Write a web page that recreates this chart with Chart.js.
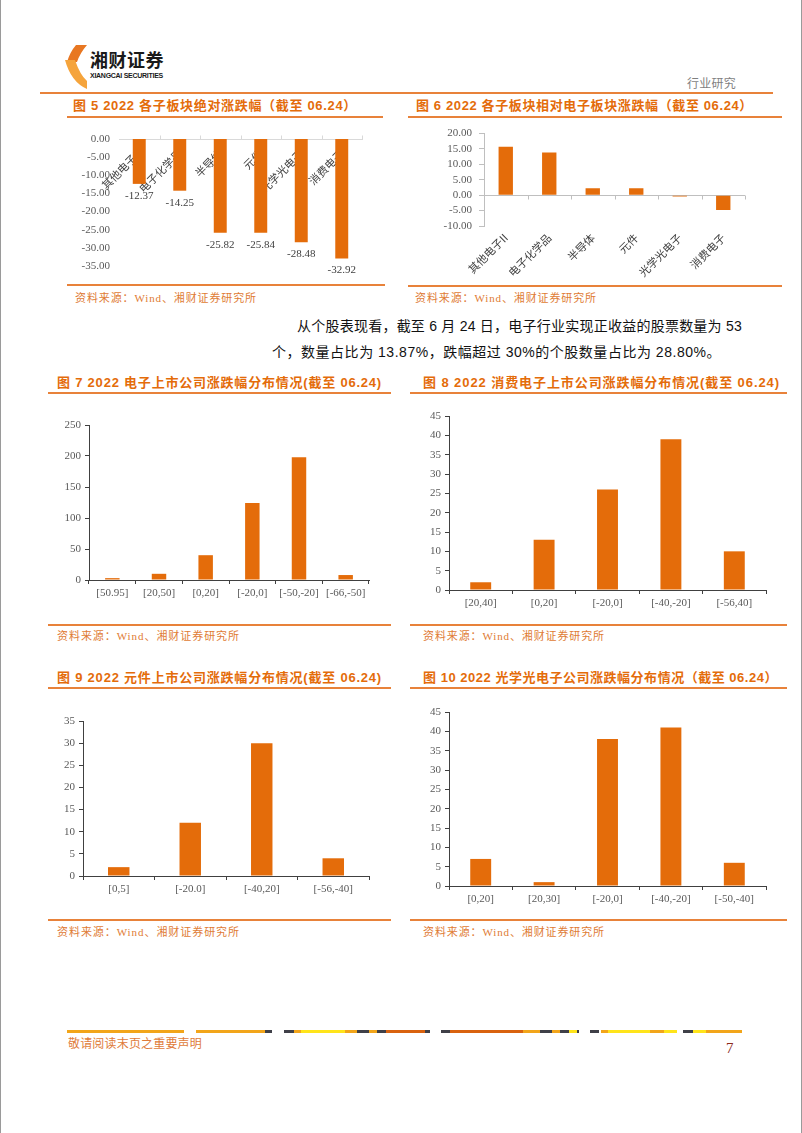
<!DOCTYPE html>
<html><head><meta charset="utf-8">
<script src="https://cdn.jsdelivr.net/npm/chart.js@4.4.0/dist/chart.umd.min.js"></script>
<style>
html,body{margin:0;padding:0;background:#fff;}
body{width:802px;height:1133px;position:relative;overflow:hidden;}
.t{position:absolute;white-space:nowrap;display:inline-block;}
.ln{position:absolute;}
canvas{position:absolute;}
</style></head><body>
<svg style="position:absolute;left:0;top:0" width="802" height="1133">
  <path d="M76 45 L87 45 Q80 53 77 62 L67 62 Q70 52 76 45 Z" fill="#E87722"/>
  <path d="M65 60 L75 60 Q80 75 87 81 L87 89 Q71 82 65 60 Z" fill="#F5A43C"/>
  <line x1="0.5" y1="0" x2="0.5" y2="1133" stroke="#9a9a9a" stroke-width="1"/>
  <line x1="801.5" y1="0" x2="801.5" y2="1133" stroke="#9a9a9a" stroke-width="1"/>
</svg>
<script>
// ---------------- DATA ----------------
const fig5Categories = ['其他电子II','电子化学品','半导体','元件','光学光电子','消费电子'];
const fig5Values = [-12.37,-14.25,-25.82,-25.84,-28.48,-32.92];

const fig6Categories = ['其他电子II','电子化学品','半导体','元件','光学光电子','消费电子'];
const fig6Values = [15.71,13.83,2.26,2.24,-0.40,-4.84];

const fig7Categories = ['[50.95]','[20,50]','[0,20]','[-20,0]','[-50,-20]','[-66,-50]'];
const fig7Values = [3,10,40,124,198,8];

const fig8Categories = ['[20,40]','[0,20]','[-20,0]','[-40,-20]','[-56,40]'];
const fig8Values = [2,13,26,39,10];

const fig9Categories = ['[0,5]','[-20.0]','[-40,20]','[-56,-40]'];
const fig9Values = [2,12,30,4];

const fig10Categories = ['[0,20]','[20,30]','[-20,0]','[-40,-20]','[-50,-40]'];
const fig10Values = [7,1,38,41,6];

// ---------------- STYLE ----------------
const BAR = '#E46C0A';
const ORANGE_TXT = '#E46C0A';
const LINE = '#E8823A';
const SRC = '#E07B34';
const TICK_TXT = '#595959';
const AX = '#404040';
const SERIF = '"Liberation Serif","Noto Sans CJK SC",serif';
const SANS = '"Liberation Sans","Noto Sans CJK SC",sans-serif';
const CJK = '"Noto Sans CJK SC",sans-serif';

function txt(text, x, cy, size, o) {
  o = o || {};
  const el = document.createElement('span');
  el.className = 't';
  el.textContent = text;
  el.style.left = x + 'px';
  el.style.top = (cy - size / 2) + 'px';
  el.style.fontSize = size + 'px';
  el.style.lineHeight = size + 'px';
  el.style.fontFamily = o.family || SANS;
  el.style.fontWeight = o.weight || 'normal';
  el.style.color = o.color || '#000';
  document.body.appendChild(el);
  if (o.width) {
    const cur = el.getBoundingClientRect().width;
    const n = [...text].length;
    el.style.letterSpacing = ((o.width - cur) / n) + 'px';
  }
  return el;
}
function hline(x1, x2, y, th, color) {
  const d = document.createElement('div');
  d.className = 'ln';
  d.style.left = x1 + 'px'; d.style.top = (y - th / 2) + 'px';
  d.style.width = (x2 - x1) + 'px'; d.style.height = th + 'px';
  d.style.background = color;
  document.body.appendChild(d);
}
function addCanvas(box) {
  const c = document.createElement('canvas');
  c.width = box.w; c.height = box.h;
  c.style.left = box.x + 'px'; c.style.top = box.y + 'px';
  c.style.width = box.w + 'px'; c.style.height = box.h + 'px';
  document.body.appendChild(c);
  return c;
}

// ---------------- HEADER ----------------
txt('湘财证券', 90, 59, 18, {weight: 'bold', color: '#1a1a1a', family: CJK, width: 74});
txt('XIANGCAI SECURITIES', 90, 75, 7, {weight: 'bold', color: '#1a1a1a', family: '"Liberation Sans Narrow","Liberation Sans",sans-serif', width: 73});
txt('行业研究', 687, 83, 12, {color: '#7f7f7f', family: CJK, width: 49});
hline(40, 773, 93, 1.5, LINE);

// ---------------- TITLES / FRAMES ----------------
const tSize = 13;
txt('图 5 2022 各子板块绝对涨跌幅（截至 06.24）', 73, 105, tSize, {weight: 'bold', color: ORANGE_TXT, width: 284});
txt('图 6 2022 各子板块相对电子板块涨跌幅（截至 06.24）', 416, 105, tSize, {weight: 'bold', color: ORANGE_TXT, width: 337});
hline(67, 383, 117, 1.5, LINE);
hline(408, 782, 117, 1.5, LINE);
hline(67, 385, 285, 2, LINE);
hline(408, 782, 286, 2, LINE);
txt('资料来源：Wind、湘财证券研究所', 75, 298, 11, {color: SRC, family: SERIF, width: 182});
txt('资料来源：Wind、湘财证券研究所', 415, 298, 11, {color: SRC, family: SERIF, width: 182});

txt('从个股表现看，截至 6 月 24 日，电子行业实现正收益的股票数量为 53', 297, 326, 14, {color: '#111', width: 445});
txt('个，数量占比为 13.87%，跌幅超过 30%的个股数量占比为 28.80%。', 272, 352, 14, {color: '#111', width: 449});

txt('图 7 2022 电子上市公司涨跌幅分布情况(截至 06.24)', 57, 382, tSize, {weight: 'bold', color: ORANGE_TXT, width: 325});
txt('图 8 2022 消费电子上市公司涨跌幅分布情况(截至 06.24)', 423, 382, tSize, {weight: 'bold', color: ORANGE_TXT, width: 357});
hline(48, 391, 393, 1.5, LINE);
hline(410, 787, 393, 1.5, LINE);
hline(48, 391, 625, 1.5, LINE);
hline(410, 787, 625, 1.5, LINE);
txt('资料来源：Wind、湘财证券研究所', 57, 636, 11, {color: SRC, family: SERIF, width: 183});
txt('资料来源：Wind、湘财证券研究所', 423, 636, 11, {color: SRC, family: SERIF, width: 182});

txt('图 9 2022 元件上市公司涨跌幅分布情况(截至 06.24)', 57, 677, tSize, {weight: 'bold', color: ORANGE_TXT, width: 325});
txt('图 10 2022 光学光电子公司涨跌幅分布情况（截至 06.24）', 423, 677, tSize, {weight: 'bold', color: ORANGE_TXT, width: 355});
hline(48, 391, 688, 1.5, LINE);
hline(410, 787, 688, 1.5, LINE);
hline(48, 391, 920, 1.5, LINE);
hline(410, 787, 920, 1.5, LINE);
txt('资料来源：Wind、湘财证券研究所', 57, 932, 11, {color: SRC, family: SERIF, width: 183});
txt('资料来源：Wind、湘财证券研究所', 423, 932, 11, {color: SRC, family: SERIF, width: 182});

// ---------------- FOOTER ----------------
const O = '#F2A51A', Y = '#FFE41A', D = '#3f4048', R = '#D9620F';
const footerSegs = [
  [67,184,O],[196,265,O],[265,272,D],
  [284,294,D],[294,301,O],[301,345,Y],[345,357,O],[357,369,D],[369,377,O],[377,386,D],[386,425,R],[425,430,D],
  [441,450,D],[450,523,R],[523,540,O],[540,552,D],[552,560,O],[560,569,D],[569,577,Y],[577,579,D],
  [590,599,D],[601,608,O],[608,650,Y],[650,664,O],[664,677,Y],
  [683,693,D],[693,706,Y],[706,742,O]
];
footerSegs.forEach(s => hline(s[0], s[1], 1031.5, 3, s[2]));
txt('敬请阅读末页之重要声明', 68, 1044, 12, {color: '#E07B39', family: SERIF, width: 134});
txt('7', 726, 1048, 15, {color: '#8B2B1A', family: SERIF});

// ---------------- CHARTS ----------------
Chart.defaults.font.family = SERIF;
const serif11 = {family: SERIF, size: 11};
const cjk11 = {family: '"Noto Sans CJK SC",sans-serif', size: 11};

const valueLabels = {
  id: 'valueLabels',
  afterDatasetsDraw(chart) {
    if (!chart.options.plugins.valueLabels || !chart.options.plugins.valueLabels.on) return;
    const ctx = chart.ctx;
    const meta = chart.getDatasetMeta(0);
    const data = chart.data.datasets[0].data;
    ctx.save();
    ctx.font = '11px ' + SERIF;
    ctx.fillStyle = '#404040';
    ctx.textAlign = 'center';
    ctx.textBaseline = 'middle';
    meta.data.forEach((bar, i) => {
      ctx.fillText(data[i].toFixed(2), bar.x, bar.y + 12);
    });
    ctx.restore();
  }
};
const zeroTicks = {
  id: 'zeroTicks',
  afterDatasetsDraw(chart) {
    const o = chart.options.plugins.zeroTicks;
    if (!o || !o.on) return;
    const x = chart.scales.x, y = chart.scales.y;
    const y0 = Math.round(y.getPixelForValue(0)) + 0.5;
    const n = chart.data.labels.length;
    const ctx = chart.ctx;
    ctx.save();
    ctx.strokeStyle = o.color; ctx.lineWidth = 1;
    for (let i = 1; i <= n; i++) {
      const bx = i < n ? (x.getPixelForValue(i - 1) + x.getPixelForValue(i)) / 2 : chart.chartArea.right;
      const px = Math.round(bx) + 0.5;
      ctx.beginPath(); ctx.moveTo(px, y0); ctx.lineTo(px, y0 + o.dir * 4); ctx.stroke();
    }
    ctx.restore();
  }
};

function baseOpts(box, area) {
  return {
    responsive: false, animation: false, devicePixelRatio: 1,
    layout: {padding: {left: 0, top: area.t - box.y, right: box.x + box.w - area.r, bottom: 0}},
    plugins: {legend: {display: false}, tooltip: {enabled: false}, title: {display: false}}
  };
}

// Figure 5
(function () {
  const box = {x: 60, y: 122, w: 320, h: 162};
  const area = {l: 119, r: 362, t: 139, b: 266};
  const opts = baseOpts(box, area);
  opts.layout.padding.bottom = box.y + box.h - area.b;
  opts.plugins.valueLabels = {on: true};
  opts.plugins.zeroTicks = {on: true, color: '#d9d9d9', dir: -1};
  opts.scales = {
    y: {min: -35, max: 0,
        ticks: {stepSize: 5, autoSkip: false, callback: v => Number(v).toFixed(2), font: serif11, color: TICK_TXT, padding: 9},
        grid: {display: false, drawTicks: false}, border: {display: false},
        afterFit: s => { s.width = area.l - box.x; }},
    x: {position: {y: 0}, z: 1,
        grid: {display: true, drawOnChartArea: false, drawTicks: false, color: '#d9d9d9'},
        border: {color: '#d9d9d9'},
        ticks: {minRotation: 45, maxRotation: 45, autoSkip: false, padding: 8, font: cjk11, color: '#404040'}}
  };
  new Chart(addCanvas(box), {
    type: 'bar',
    data: {labels: fig5Categories, datasets: [{data: fig5Values, backgroundColor: BAR, barPercentage: 0.32, categoryPercentage: 1}]},
    options: opts,
    plugins: [valueLabels, zeroTicks]
  });
})();

// Figure 6
(function () {
  const box = {x: 410, y: 120, w: 372, h: 162};
  const area = {l: 484, r: 745, t: 127, b: 226};
  const opts = baseOpts(box, area);
  opts.plugins.zeroTicks = {on: true, color: '#bfbfbf', dir: 1};
  opts.scales = {
    y: {min: -10, max: 20,
        ticks: {stepSize: 5, autoSkip: false, callback: v => Number(v).toFixed(2), font: serif11, color: TICK_TXT, padding: 7},
        grid: {color: c => (c.tick && c.tick.value === 0) ? '#bfbfbf' : 'rgba(0,0,0,0)', tickColor: '#bfbfbf', tickLength: 5},
        border: {color: '#bfbfbf'},
        afterFit: s => { s.width = area.l - box.x; }},
    x: {grid: {display: false, drawTicks: false}, border: {display: false},
        ticks: {minRotation: 45, maxRotation: 45, autoSkip: false, padding: 5, font: cjk11, color: '#404040'},
        afterFit: s => { s.height = box.y + box.h - area.b; }}
  };
  new Chart(addCanvas(box), {
    type: 'bar',
    data: {labels: fig6Categories, datasets: [{data: fig6Values, backgroundColor: BAR, barPercentage: 0.33, categoryPercentage: 1}]},
    options: opts,
    plugins: [zeroTicks]
  });
})();

function hist(labels, values, box, area, ymax, step, bp) {
  const opts = baseOpts(box, area);
  opts.scales = {
    x: {grid: {display: true, drawOnChartArea: false, color: AX, tickLength: 4},
        border: {color: AX},
        ticks: {font: serif11, color: TICK_TXT, padding: 3, autoSkip: false, maxRotation: 0},
        afterFit: s => { s.height = box.y + box.h - area.b; }},
    y: {min: 0, max: ymax,
        ticks: {stepSize: step, autoSkip: false, font: serif11, color: TICK_TXT, padding: 4},
        grid: {drawOnChartArea: false, color: AX, tickLength: 4},
        border: {color: AX},
        afterFit: s => { s.width = area.l - box.x; }}
  };
  new Chart(addCanvas(box), {
    type: 'bar',
    data: {labels: labels, datasets: [{data: values, backgroundColor: BAR, barPercentage: bp, categoryPercentage: 1}]},
    options: opts
  });
}

hist(fig7Categories, fig7Values, {x: 40, y: 410, w: 350, h: 205}, {l: 89, r: 369, t: 425, b: 580}, 250, 50, 0.31);
hist(fig8Categories, fig8Values, {x: 410, y: 405, w: 375, h: 210}, {l: 449, r: 766, t: 416, b: 590}, 45, 5, 0.33);
hist(fig9Categories, fig9Values, {x: 40, y: 705, w: 350, h: 205}, {l: 83, r: 369, t: 721, b: 876}, 35, 5, 0.30);
hist(fig10Categories, fig10Values, {x: 410, y: 700, w: 375, h: 215}, {l: 449, r: 766, t: 712, b: 886}, 45, 5, 0.33);
</script>
</body></html>
